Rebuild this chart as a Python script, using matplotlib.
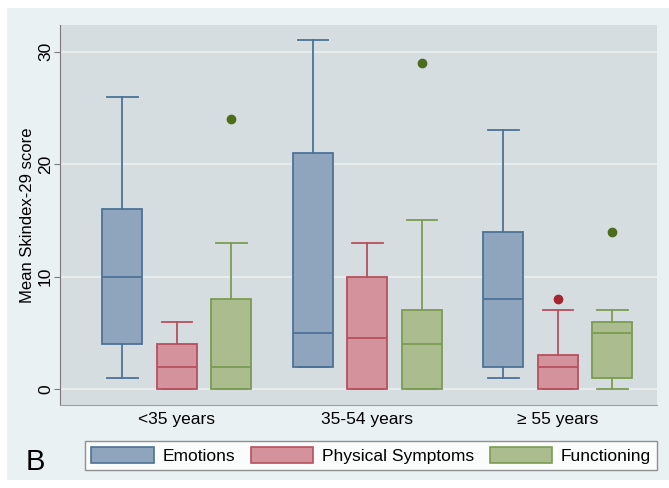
import matplotlib
matplotlib.use("Agg")
import matplotlib.pyplot as plt
from matplotlib.patches import Rectangle, Patch

plt.rcParams['font.family'] = ['Liberation Sans', 'DejaVu Sans']

groups = ['<35 years', '35-54 years', '≥ 55 years']
series = ['Emotions', 'Physical Symptoms', 'Functioning']

# (whislo, q1, med, q3, whishi, outliers) per group
emotions = [(1, 4, 10, 16, 26, []), (2, 2, 5, 21, 31, []), (1, 2, 8, 14, 23, [])]
physical = [(0, 0, 2, 4, 6, []), (0, 0, 4.5, 10, 13, []), (0, 0, 2, 3, 7, [8])]
functioning = [(0, 0, 2, 8, 13, [24]), (0, 0, 4, 7, 15, [29]), (0, 1, 5, 6, 7, [14])]

fills = ['#8ea5bd', '#d4939c', '#abbd8e']
edges = ['#4d7296', '#b8505e', '#7c9b52']
dots = ['#4d7296', '#a3262f', '#4c6d1b']

fig = plt.figure(figsize=(6.69, 4.88), dpi=100)
fig.patch.set_facecolor('white')
fig.patches.append(Rectangle((7/669, 8/488), 1 - 7/669, 1 - 16/488, transform=fig.transFigure,
                             facecolor='#eaf1f3', edgecolor='none', zorder=-10))

ax = fig.add_axes([60/669, 83/488, 597/669, 380/488])
ax.set_facecolor('#d5dde0')

offsets = [-0.286, 0, 0.286]
for si, data in enumerate([emotions, physical, functioning]):
    stats = []
    for lo, q1, med, q3, hi, fl in data:
        stats.append(dict(whislo=lo, q1=q1, med=med, q3=q3, whishi=hi, fliers=fl))
    pos = [g + 1 + offsets[si] for g in range(3)]
    ax.bxp(stats, positions=pos, widths=0.21, capwidths=0.16, patch_artist=True,
           boxprops=dict(facecolor=fills[si], edgecolor=edges[si], linewidth=1.3),
           medianprops=dict(color=edges[si], linewidth=1.3),
           whiskerprops=dict(color=edges[si], linewidth=1.3),
           capprops=dict(color=edges[si], linewidth=1.3),
           flierprops=dict(marker='o', markerfacecolor=dots[si], markeredgecolor=dots[si],
                           markersize=6))

ax.set_xlim(0.386, 3.52)
ax.set_ylim(-1.42, 32.36)
ax.set_yticks([0, 10, 20, 30])
ax.set_yticklabels(['0', '10', '20', '30'], rotation=90, va='center', fontsize=12.5)
ax.set_xticks([1, 2, 3])
ax.set_xticklabels(groups, fontsize=12.5)
ax.tick_params(axis='x', length=0, pad=5)
ax.tick_params(axis='y', length=4, color='#7a7a7a', pad=1)
ax.grid(axis='y', color='#eaf0f2', linewidth=1.2)
ax.set_axisbelow(True)
for s in ['top', 'right']:
    ax.spines[s].set_visible(False)
ax.spines['left'].set_color('#7a7a7a')
ax.spines['bottom'].set_color('#9aa3a6')
ax.set_ylabel('Mean Skindex-29 score', fontsize=12, labelpad=2)

handles = [Patch(facecolor=fills[i], edgecolor=edges[i], linewidth=1.2) for i in range(3)]
leg = fig.legend(handles, series, loc='lower left', ncol=3, mode='expand',
                 bbox_to_anchor=(85/669, 18/488, 572/669, 33/488), fontsize=12.5,
                 handlelength=3.6, handleheight=1.1, frameon=True, fancybox=False,
                 borderaxespad=0, columnspacing=1.0, handletextpad=0.5, borderpad=0.35)
leg.get_frame().set_edgecolor('#777777')
leg.get_frame().set_facecolor('white')
leg.get_frame().set_linewidth(1.0)

fig.text(26/669, 26/488, 'B', fontsize=21, ha='left', va='center')

fig.savefig('out.png', dpi=100)
